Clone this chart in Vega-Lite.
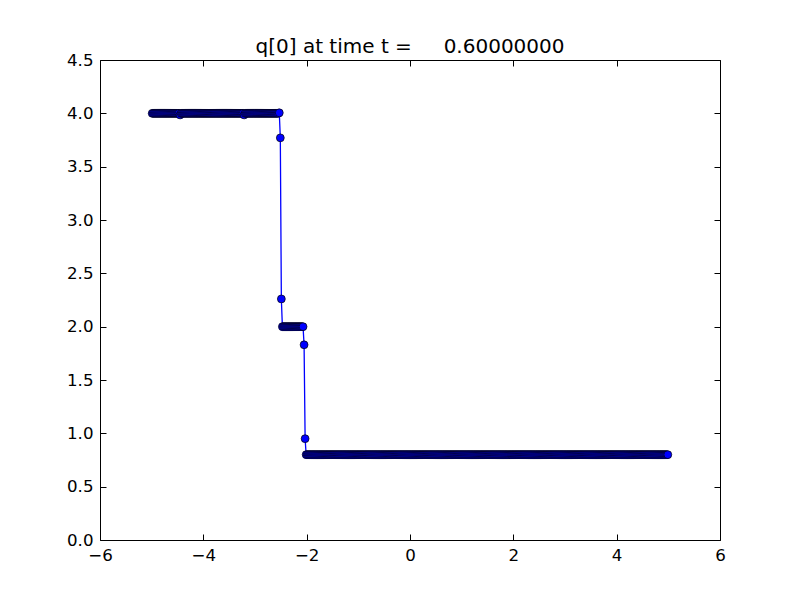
{
  "$schema": "https://vega.github.io/schema/vega-lite/v6.json",
  "width": 620,
  "height": 480,
  "autosize": {"type": "none"},
  "padding": {"left": 100, "top": 60, "right": 80, "bottom": 60},
  "background": "white",
  "title": {
    "text": "q[0] at time t =\u00a0\u00a0\u00a0\u00a0\u00a00.60000000",
    "font": "DejaVu Sans",
    "fontSize": 20,
    "fontWeight": "normal",
    "color": "black",
    "anchor": "middle",
    "baseline": "alphabetic",
    "offset": -21
  },
  "config": {
    "view": {"stroke": "black", "strokeWidth": 1},
    "axis": {
      "domain": false,
      "grid": false,
      "tickColor": "black",
      "tickSize": -6,
      "tickWidth": 1,
      "labelFont": "DejaVu Sans",
      "labelFontSize": 16.67,
      "labelColor": "black",
      "labelPadding": 13,
      "labelFlush": false,
      "labelOverlap": false
    }
  },
  "data": {
    "values": [
      {"x":-4.99,"y":4},{"x":-4.97,"y":4},{"x":-4.95,"y":4},{"x":-4.93,"y":4},{"x":-4.91,"y":4},
      {"x":-4.89,"y":4},{"x":-4.87,"y":4},{"x":-4.85,"y":4},{"x":-4.83,"y":4},{"x":-4.81,"y":4},
      {"x":-4.79,"y":4},{"x":-4.77,"y":4},{"x":-4.75,"y":4},{"x":-4.73,"y":4},{"x":-4.71,"y":4},
      {"x":-4.69,"y":4},{"x":-4.67,"y":4},{"x":-4.65,"y":4},{"x":-4.63,"y":4},{"x":-4.61,"y":4},
      {"x":-4.59,"y":4},{"x":-4.57,"y":4},{"x":-4.55,"y":4},{"x":-4.53,"y":4},{"x":-4.51,"y":4},
      {"x":-4.49,"y":4},{"x":-4.47,"y":4},{"x":-4.45,"y":3.985},{"x":-4.43,"y":4},{"x":-4.41,"y":4},
      {"x":-4.39,"y":4},{"x":-4.37,"y":4},{"x":-4.35,"y":4},{"x":-4.33,"y":4},{"x":-4.31,"y":4},
      {"x":-4.29,"y":4},{"x":-4.27,"y":4},{"x":-4.25,"y":4},{"x":-4.23,"y":4},{"x":-4.21,"y":4},
      {"x":-4.19,"y":4},{"x":-4.17,"y":4},{"x":-4.15,"y":4},{"x":-4.13,"y":4},{"x":-4.11,"y":4},
      {"x":-4.09,"y":4},{"x":-4.07,"y":4},{"x":-4.05,"y":4},{"x":-4.03,"y":4},{"x":-4.01,"y":4},
      {"x":-3.99,"y":4},{"x":-3.97,"y":4},{"x":-3.95,"y":4},{"x":-3.93,"y":4},{"x":-3.91,"y":4},
      {"x":-3.89,"y":4},{"x":-3.87,"y":4},{"x":-3.85,"y":4},{"x":-3.83,"y":4},{"x":-3.81,"y":4},
      {"x":-3.79,"y":4},{"x":-3.77,"y":4},{"x":-3.75,"y":4},{"x":-3.73,"y":4},{"x":-3.71,"y":4},
      {"x":-3.69,"y":4},{"x":-3.67,"y":4},{"x":-3.65,"y":4},{"x":-3.63,"y":4},{"x":-3.61,"y":4},
      {"x":-3.59,"y":4},{"x":-3.57,"y":4},{"x":-3.55,"y":4},{"x":-3.53,"y":4},{"x":-3.51,"y":4},
      {"x":-3.49,"y":4},{"x":-3.47,"y":4},{"x":-3.45,"y":4},{"x":-3.43,"y":4},{"x":-3.41,"y":4},
      {"x":-3.39,"y":4},{"x":-3.37,"y":4},{"x":-3.35,"y":4},{"x":-3.33,"y":4},{"x":-3.31,"y":4},
      {"x":-3.29,"y":4},{"x":-3.27,"y":4},{"x":-3.25,"y":4},{"x":-3.23,"y":4},{"x":-3.21,"y":3.985},
      {"x":-3.19,"y":4},{"x":-3.17,"y":4},{"x":-3.15,"y":4},{"x":-3.13,"y":4},{"x":-3.11,"y":4},
      {"x":-3.09,"y":4},{"x":-3.07,"y":4},{"x":-3.05,"y":4},{"x":-3.03,"y":4},{"x":-3.01,"y":4},
      {"x":-2.99,"y":4},{"x":-2.97,"y":4},{"x":-2.95,"y":4},{"x":-2.93,"y":4},{"x":-2.91,"y":4},
      {"x":-2.89,"y":4},{"x":-2.87,"y":4},{"x":-2.85,"y":4},{"x":-2.83,"y":4},{"x":-2.81,"y":4},
      {"x":-2.79,"y":4},{"x":-2.77,"y":4},{"x":-2.75,"y":4},{"x":-2.73,"y":4},{"x":-2.71,"y":4},
      {"x":-2.69,"y":4},{"x":-2.67,"y":4},{"x":-2.65,"y":4},{"x":-2.63,"y":4},{"x":-2.61,"y":4},
      {"x":-2.59,"y":4},{"x":-2.57,"y":4},{"x":-2.55,"y":4},{"x":-2.53,"y":4.005},
      {"x":-2.51,"y":3.77},{"x":-2.49,"y":2.26},
      {"x":-2.47,"y":2},{"x":-2.45,"y":2},{"x":-2.43,"y":2},{"x":-2.41,"y":2},
      {"x":-2.39,"y":2},{"x":-2.37,"y":2},{"x":-2.35,"y":2},{"x":-2.33,"y":2},{"x":-2.31,"y":2},
      {"x":-2.29,"y":2},{"x":-2.27,"y":2},{"x":-2.25,"y":2},{"x":-2.23,"y":2},{"x":-2.21,"y":2},
      {"x":-2.19,"y":2},{"x":-2.17,"y":2},{"x":-2.15,"y":2},{"x":-2.13,"y":2},{"x":-2.11,"y":2},
      {"x":-2.09,"y":2},{"x":-2.07,"y":2},
      {"x":-2.05,"y":1.83},{"x":-2.03,"y":0.95},
      {"x":-2.01,"y":0.8},
      {"x":-1.99,"y":0.8},{"x":-1.97,"y":0.8},{"x":-1.95,"y":0.8},{"x":-1.93,"y":0.8},{"x":-1.91,"y":0.8},
      {"x":-1.89,"y":0.8},{"x":-1.87,"y":0.8},{"x":-1.85,"y":0.8},{"x":-1.83,"y":0.8},{"x":-1.81,"y":0.8},
      {"x":-1.79,"y":0.8},{"x":-1.77,"y":0.8},{"x":-1.75,"y":0.8},{"x":-1.73,"y":0.8},{"x":-1.71,"y":0.8},
      {"x":-1.69,"y":0.8},{"x":-1.67,"y":0.8},{"x":-1.65,"y":0.8},{"x":-1.63,"y":0.8},{"x":-1.61,"y":0.8},
      {"x":-1.59,"y":0.8},{"x":-1.57,"y":0.8},{"x":-1.55,"y":0.8},{"x":-1.53,"y":0.8},{"x":-1.51,"y":0.8},
      {"x":-1.49,"y":0.8},{"x":-1.47,"y":0.8},{"x":-1.45,"y":0.8},{"x":-1.43,"y":0.8},{"x":-1.41,"y":0.8},
      {"x":-1.39,"y":0.8},{"x":-1.37,"y":0.8},{"x":-1.35,"y":0.8},{"x":-1.33,"y":0.8},{"x":-1.31,"y":0.8},
      {"x":-1.29,"y":0.8},{"x":-1.27,"y":0.8},{"x":-1.25,"y":0.8},{"x":-1.23,"y":0.8},{"x":-1.21,"y":0.8},
      {"x":-1.19,"y":0.8},{"x":-1.17,"y":0.8},{"x":-1.15,"y":0.8},{"x":-1.13,"y":0.8},{"x":-1.11,"y":0.8},
      {"x":-1.09,"y":0.8},{"x":-1.07,"y":0.8},{"x":-1.05,"y":0.8},{"x":-1.03,"y":0.8},{"x":-1.01,"y":0.8},
      {"x":-0.99,"y":0.8},{"x":-0.97,"y":0.8},{"x":-0.95,"y":0.8},{"x":-0.93,"y":0.8},{"x":-0.91,"y":0.8},
      {"x":-0.89,"y":0.8},{"x":-0.87,"y":0.8},{"x":-0.85,"y":0.8},{"x":-0.83,"y":0.8},{"x":-0.81,"y":0.8},
      {"x":-0.79,"y":0.8},{"x":-0.77,"y":0.8},{"x":-0.75,"y":0.8},{"x":-0.73,"y":0.8},{"x":-0.71,"y":0.8},
      {"x":-0.69,"y":0.8},{"x":-0.67,"y":0.8},{"x":-0.65,"y":0.8},{"x":-0.63,"y":0.8},{"x":-0.61,"y":0.8},
      {"x":-0.59,"y":0.8},{"x":-0.57,"y":0.8},{"x":-0.55,"y":0.8},{"x":-0.53,"y":0.8},{"x":-0.51,"y":0.8},
      {"x":-0.49,"y":0.8},{"x":-0.47,"y":0.8},{"x":-0.45,"y":0.8},{"x":-0.43,"y":0.8},{"x":-0.41,"y":0.8},
      {"x":-0.39,"y":0.8},{"x":-0.37,"y":0.8},{"x":-0.35,"y":0.8},{"x":-0.33,"y":0.8},{"x":-0.31,"y":0.8},
      {"x":-0.29,"y":0.8},{"x":-0.27,"y":0.8},{"x":-0.25,"y":0.8},{"x":-0.23,"y":0.8},{"x":-0.21,"y":0.8},
      {"x":-0.19,"y":0.8},{"x":-0.17,"y":0.8},{"x":-0.15,"y":0.8},{"x":-0.13,"y":0.8},{"x":-0.11,"y":0.8},
      {"x":-0.09,"y":0.8},{"x":-0.07,"y":0.8},{"x":-0.05,"y":0.8},{"x":-0.03,"y":0.8},{"x":-0.01,"y":0.8},
      {"x":0.01,"y":0.8},{"x":0.03,"y":0.8},{"x":0.05,"y":0.8},{"x":0.07,"y":0.8},{"x":0.09,"y":0.8},
      {"x":0.11,"y":0.8},{"x":0.13,"y":0.8},{"x":0.15,"y":0.8},{"x":0.17,"y":0.8},{"x":0.19,"y":0.8},
      {"x":0.21,"y":0.8},{"x":0.23,"y":0.8},{"x":0.25,"y":0.8},{"x":0.27,"y":0.8},{"x":0.29,"y":0.8},
      {"x":0.31,"y":0.8},{"x":0.33,"y":0.8},{"x":0.35,"y":0.8},{"x":0.37,"y":0.8},{"x":0.39,"y":0.8},
      {"x":0.41,"y":0.8},{"x":0.43,"y":0.8},{"x":0.45,"y":0.8},{"x":0.47,"y":0.8},{"x":0.49,"y":0.8},
      {"x":0.51,"y":0.8},{"x":0.53,"y":0.8},{"x":0.55,"y":0.8},{"x":0.57,"y":0.8},{"x":0.59,"y":0.8},
      {"x":0.61,"y":0.8},{"x":0.63,"y":0.8},{"x":0.65,"y":0.8},{"x":0.67,"y":0.8},{"x":0.69,"y":0.8},
      {"x":0.71,"y":0.8},{"x":0.73,"y":0.8},{"x":0.75,"y":0.8},{"x":0.77,"y":0.8},{"x":0.79,"y":0.8},
      {"x":0.81,"y":0.8},{"x":0.83,"y":0.8},{"x":0.85,"y":0.8},{"x":0.87,"y":0.8},{"x":0.89,"y":0.8},
      {"x":0.91,"y":0.8},{"x":0.93,"y":0.8},{"x":0.95,"y":0.8},{"x":0.97,"y":0.8},{"x":0.99,"y":0.8},
      {"x":1.01,"y":0.8},{"x":1.03,"y":0.8},{"x":1.05,"y":0.8},{"x":1.07,"y":0.8},{"x":1.09,"y":0.8},
      {"x":1.11,"y":0.8},{"x":1.13,"y":0.8},{"x":1.15,"y":0.8},{"x":1.17,"y":0.8},{"x":1.19,"y":0.8},
      {"x":1.21,"y":0.8},{"x":1.23,"y":0.8},{"x":1.25,"y":0.8},{"x":1.27,"y":0.8},{"x":1.29,"y":0.8},
      {"x":1.31,"y":0.8},{"x":1.33,"y":0.8},{"x":1.35,"y":0.8},{"x":1.37,"y":0.8},{"x":1.39,"y":0.8},
      {"x":1.41,"y":0.8},{"x":1.43,"y":0.8},{"x":1.45,"y":0.8},{"x":1.47,"y":0.8},{"x":1.49,"y":0.8},
      {"x":1.51,"y":0.8},{"x":1.53,"y":0.8},{"x":1.55,"y":0.8},{"x":1.57,"y":0.8},{"x":1.59,"y":0.8},
      {"x":1.61,"y":0.8},{"x":1.63,"y":0.8},{"x":1.65,"y":0.8},{"x":1.67,"y":0.8},{"x":1.69,"y":0.8},
      {"x":1.71,"y":0.8},{"x":1.73,"y":0.8},{"x":1.75,"y":0.8},{"x":1.77,"y":0.8},{"x":1.79,"y":0.8},
      {"x":1.81,"y":0.8},{"x":1.83,"y":0.8},{"x":1.85,"y":0.8},{"x":1.87,"y":0.8},{"x":1.89,"y":0.8},
      {"x":1.91,"y":0.8},{"x":1.93,"y":0.8},{"x":1.95,"y":0.8},{"x":1.97,"y":0.8},{"x":1.99,"y":0.8},
      {"x":2.01,"y":0.8},{"x":2.03,"y":0.8},{"x":2.05,"y":0.8},{"x":2.07,"y":0.8},{"x":2.09,"y":0.8},
      {"x":2.11,"y":0.8},{"x":2.13,"y":0.8},{"x":2.15,"y":0.8},{"x":2.17,"y":0.8},{"x":2.19,"y":0.8},
      {"x":2.21,"y":0.8},{"x":2.23,"y":0.8},{"x":2.25,"y":0.8},{"x":2.27,"y":0.8},{"x":2.29,"y":0.8},
      {"x":2.31,"y":0.8},{"x":2.33,"y":0.8},{"x":2.35,"y":0.8},{"x":2.37,"y":0.8},{"x":2.39,"y":0.8},
      {"x":2.41,"y":0.8},{"x":2.43,"y":0.8},{"x":2.45,"y":0.8},{"x":2.47,"y":0.8},{"x":2.49,"y":0.8},
      {"x":2.51,"y":0.8},{"x":2.53,"y":0.8},{"x":2.55,"y":0.8},{"x":2.57,"y":0.8},{"x":2.59,"y":0.8},
      {"x":2.61,"y":0.8},{"x":2.63,"y":0.8},{"x":2.65,"y":0.8},{"x":2.67,"y":0.8},{"x":2.69,"y":0.8},
      {"x":2.71,"y":0.8},{"x":2.73,"y":0.8},{"x":2.75,"y":0.8},{"x":2.77,"y":0.8},{"x":2.79,"y":0.8},
      {"x":2.81,"y":0.8},{"x":2.83,"y":0.8},{"x":2.85,"y":0.8},{"x":2.87,"y":0.8},{"x":2.89,"y":0.8},
      {"x":2.91,"y":0.8},{"x":2.93,"y":0.8},{"x":2.95,"y":0.8},{"x":2.97,"y":0.8},{"x":2.99,"y":0.8},
      {"x":3.01,"y":0.8},{"x":3.03,"y":0.8},{"x":3.05,"y":0.8},{"x":3.07,"y":0.8},{"x":3.09,"y":0.8},
      {"x":3.11,"y":0.8},{"x":3.13,"y":0.8},{"x":3.15,"y":0.8},{"x":3.17,"y":0.8},{"x":3.19,"y":0.8},
      {"x":3.21,"y":0.8},{"x":3.23,"y":0.8},{"x":3.25,"y":0.8},{"x":3.27,"y":0.8},{"x":3.29,"y":0.8},
      {"x":3.31,"y":0.8},{"x":3.33,"y":0.8},{"x":3.35,"y":0.8},{"x":3.37,"y":0.8},{"x":3.39,"y":0.8},
      {"x":3.41,"y":0.8},{"x":3.43,"y":0.8},{"x":3.45,"y":0.8},{"x":3.47,"y":0.8},{"x":3.49,"y":0.8},
      {"x":3.51,"y":0.8},{"x":3.53,"y":0.8},{"x":3.55,"y":0.8},{"x":3.57,"y":0.8},{"x":3.59,"y":0.8},
      {"x":3.61,"y":0.8},{"x":3.63,"y":0.8},{"x":3.65,"y":0.8},{"x":3.67,"y":0.8},{"x":3.69,"y":0.8},
      {"x":3.71,"y":0.8},{"x":3.73,"y":0.8},{"x":3.75,"y":0.8},{"x":3.77,"y":0.8},{"x":3.79,"y":0.8},
      {"x":3.81,"y":0.8},{"x":3.83,"y":0.8},{"x":3.85,"y":0.8},{"x":3.87,"y":0.8},{"x":3.89,"y":0.8},
      {"x":3.91,"y":0.8},{"x":3.93,"y":0.8},{"x":3.95,"y":0.8},{"x":3.97,"y":0.8},{"x":3.99,"y":0.8},
      {"x":4.01,"y":0.8},{"x":4.03,"y":0.8},{"x":4.05,"y":0.8},{"x":4.07,"y":0.8},{"x":4.09,"y":0.8},
      {"x":4.11,"y":0.8},{"x":4.13,"y":0.8},{"x":4.15,"y":0.8},{"x":4.17,"y":0.8},{"x":4.19,"y":0.8},
      {"x":4.21,"y":0.8},{"x":4.23,"y":0.8},{"x":4.25,"y":0.8},{"x":4.27,"y":0.8},{"x":4.29,"y":0.8},
      {"x":4.31,"y":0.8},{"x":4.33,"y":0.8},{"x":4.35,"y":0.8},{"x":4.37,"y":0.8},{"x":4.39,"y":0.8},
      {"x":4.41,"y":0.8},{"x":4.43,"y":0.8},{"x":4.45,"y":0.8},{"x":4.47,"y":0.8},{"x":4.49,"y":0.8},
      {"x":4.51,"y":0.8},{"x":4.53,"y":0.8},{"x":4.55,"y":0.8},{"x":4.57,"y":0.8},{"x":4.59,"y":0.8},
      {"x":4.61,"y":0.8},{"x":4.63,"y":0.8},{"x":4.65,"y":0.8},{"x":4.67,"y":0.8},{"x":4.69,"y":0.8},
      {"x":4.71,"y":0.8},{"x":4.73,"y":0.8},{"x":4.75,"y":0.8},{"x":4.77,"y":0.8},{"x":4.79,"y":0.8},
      {"x":4.81,"y":0.8},{"x":4.83,"y":0.8},{"x":4.85,"y":0.8},{"x":4.87,"y":0.8},{"x":4.89,"y":0.8},
      {"x":4.91,"y":0.8},{"x":4.93,"y":0.8},{"x":4.95,"y":0.8},{"x":4.97,"y":0.8},{"x":4.99,"y":0.8}
    ]
  },
  "layer": [
    {
      "mark": {"type": "line", "color": "#0000ff", "strokeWidth": 1.3},
      "encoding": {
        "x": {"field": "x", "type": "quantitative",
          "scale": {"domain": [-6, 6], "nice": false, "zero": false},
          "axis": {"orient": "bottom", "values": [-6, -4, -2, 0, 2, 4, 6], "format": "d", "title": null}},
        "y": {"field": "y", "type": "quantitative",
          "scale": {"domain": [0, 4.5], "nice": false},
          "axis": {"orient": "left", "values": [0, 0.5, 1, 1.5, 2, 2.5, 3, 3.5, 4, 4.5], "format": ".1f", "title": null}},
        "order": {"field": "x", "type": "quantitative"}
      }
    },
    {
      "mark": {"type": "point", "shape": "circle", "filled": true, "color": "#0000ff", "fill": "#0000ff", "stroke": "black", "strokeWidth": 0.7, "size": 62, "opacity": 1},
      "encoding": {
        "x": {"field": "x", "type": "quantitative",
          "scale": {"domain": [-6, 6], "nice": false, "zero": false},
          "axis": {"orient": "top", "values": [-6, -4, -2, 0, 2, 4, 6], "labels": false, "title": null}},
        "y": {"field": "y", "type": "quantitative",
          "scale": {"domain": [0, 4.5], "nice": false},
          "axis": {"orient": "right", "values": [0, 0.5, 1, 1.5, 2, 2.5, 3, 3.5, 4, 4.5], "labels": false, "title": null}}
      }
    }
  ],
  "resolve": {"axis": {"x": "independent", "y": "independent"}}
}
